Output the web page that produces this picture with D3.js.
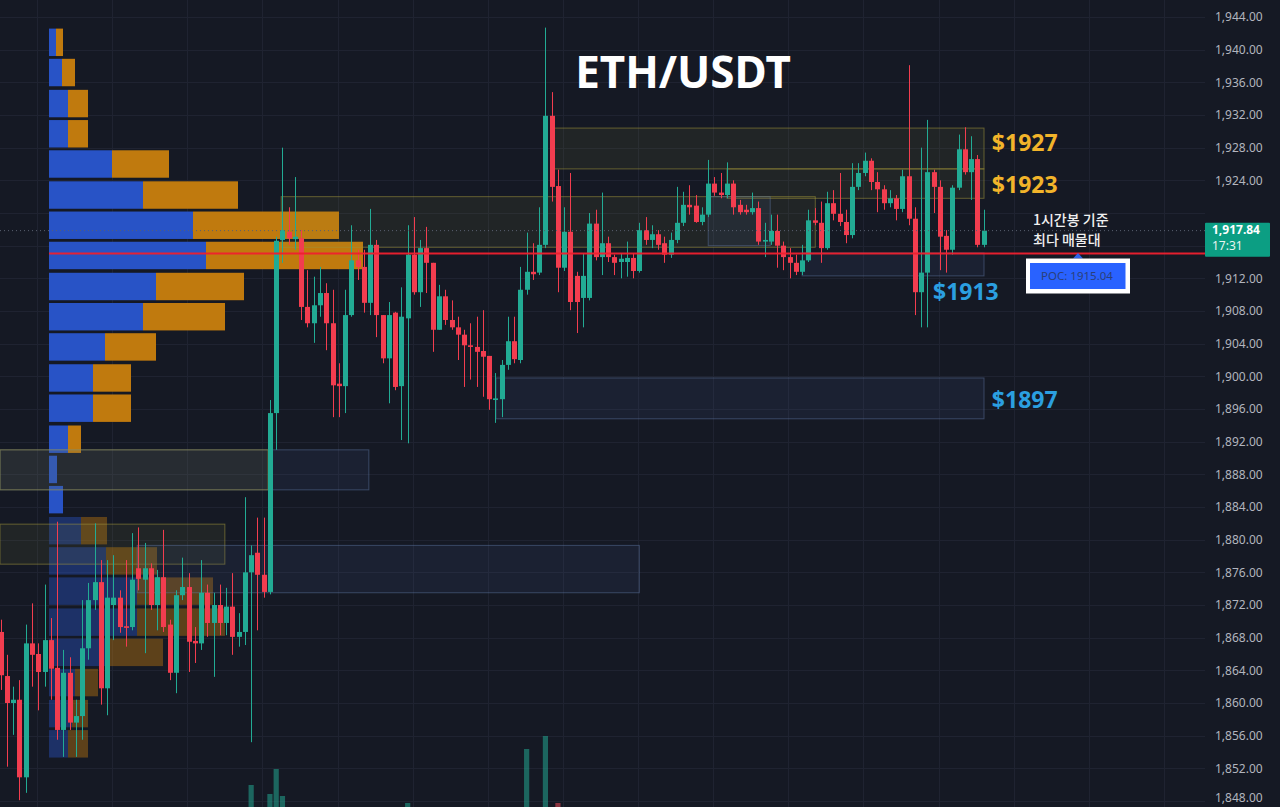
<!DOCTYPE html>
<html><head><meta charset="utf-8">
<script src="https://cdn.jsdelivr.net/npm/d3@7"></script>
<style>html,body{margin:0;padding:0;background:#151924;overflow:hidden}svg{display:block}</style>
</head><body><svg id="c" width="1280" height="807"></svg>
<script>
// ---------------- DATA ----------------
const opens = [
1868.7,1863.3,1860.0,1860.4,1850.9,1867.3,1866.0,1863.8,1867.7,1864.3,
1856.7,1863.7,1857.6,1858.4,1866.7,1872.6,1874.8,1861.8,1872.0,1872.9,
1869.4,1869.3,1876.5,1875.1,1876.5,1872.0,1875.4,1869.6,1863.7,1873.2,
1874.2,1867.6,1867.3,1873.5,1869.8,1872.0,1869.8,1871.8,1868.1,1868.7,
1876.0,1878.4,1875.7,1873.6,1895.5,1916.7,1917.7,1916.8,1916.9,1908.5,
1906.5,1908.7,1910.2,1906.5,1899.1,1898.8,1907.5,1914.2,1913.4,1909.0,
1916.1,1907.5,1902.2,1907.8,1898.8,1907.1,1914.9,1910.3,1915.7,1913.9,
1905.7,1909.8,1906.9,1906.0,1905.1,1903.8,1903.6,1903.1,1902.5,1897.1,
1897.2,1901.4,1904.3,1902.0,1910.6,1912.8,1912.7,1916.1,1931.9,1923.3,
1913.3,1917.7,1912.3,1909.6,1909.6,1918.7,1914.6,1916.3,1914.6,1914.0,
1914.0,1914.5,1912.9,1917.9,1916.7,1917.4,1916.3,1914.9,1916.7,1918.8,
1921.0,1920.9,1918.9,1919.8,1923.6,1922.5,1922.2,1923.6,1921.0,1920.4,
1920.1,1920.6,1916.5,1916.5,1917.8,1916.0,1914.6,1913.9,1912.8,1914.2,
1919.1,1918.8,1915.7,1921.2,1919.9,1918.9,1917.3,1923.2,1924.9,1926.4,
1923.8,1922.9,1921.2,1921.8,1920.5,1924.5,1919.3,1910.3,1912.7,1925.0,
1923.2,1917.2,1915.5,1923.1,1927.8,1925.0,1926.6,1916.1];
const highs = [
1870.2,1865.9,1862.0,1862.8,1869.6,1872.2,1867.3,1874.5,1870.4,1882.2,
1866.5,1865.6,1860.4,1872.6,1874.7,1882.0,1877.5,1877.5,1878.1,1873.8,
1877.5,1880.8,1881.5,1879.6,1877.1,1876.3,1881.2,1870.2,1873.8,1877.8,
1875.9,1869.3,1877.5,1874.5,1873.5,1874.5,1874.1,1875.9,1871.0,1885.2,
1879.3,1882.7,1882.7,1897.1,1917.1,1928.0,1920.7,1924.4,1917.9,1913.0,
1912.2,1913.4,1911.4,1910.6,1901.6,1910.6,1918.5,1915.5,1915.5,1920.5,
1916.7,1907.5,1909.1,1907.9,1910.9,1918.5,1919.5,1916.7,1918.3,1913.9,
1911.2,1910.6,1909.3,1907.3,1905.7,1906.5,1907.3,1908.1,1902.5,1900.4,
1902.0,1907.3,1907.3,1913.4,1917.6,1916.3,1920.7,1942.7,1934.8,1925.3,
1920.7,1924.9,1912.8,1915.1,1920.0,1920.4,1922.5,1917.1,1914.9,1915.1,
1916.5,1915.1,1918.8,1919.5,1918.5,1917.9,1917.1,1917.6,1923.2,1922.6,
1923.4,1922.2,1920.7,1926.5,1924.4,1924.9,1926.2,1924.0,1921.6,1921.0,
1922.5,1921.4,1918.8,1919.8,1919.8,1916.5,1915.7,1914.9,1916.1,1920.4,
1920.6,1921.4,1922.6,1922.8,1924.9,1920.4,1926.1,1926.1,1927.4,1926.7,
1925.0,1923.4,1922.8,1922.2,1925.3,1938.1,1920.7,1928.0,1931.4,1925.3,
1924.0,1917.9,1923.4,1929.6,1930.5,1929.4,1927.1,1920.4];
const lows = [
1861.6,1852.2,1856.1,1848.1,1849.0,1862.0,1859.1,1862.0,1860.4,1855.5,
1853.4,1856.7,1853.4,1855.5,1865.3,1871.4,1859.8,1858.5,1867.7,1868.6,
1866.9,1868.9,1873.8,1866.1,1871.4,1868.9,1868.7,1862.8,1861.2,1872.6,
1863.8,1864.9,1866.5,1868.1,1863.2,1868.3,1868.3,1865.9,1866.9,1867.1,
1855.2,1868.9,1872.9,1873.3,1891.0,1913.9,1916.1,1915.5,1906.9,1906.0,
1904.1,1907.3,1903.2,1895.0,1895.0,1895.5,1907.3,1911.8,1907.8,1907.5,
1904.8,1901.6,1896.7,1898.3,1892.2,1891.8,1910.0,1908.5,1910.2,1903.0,
1905.7,1906.3,1905.7,1902.0,1898.7,1899.6,1898.7,1897.5,1895.9,1894.3,
1895.0,1900.8,1901.6,1901.6,1910.0,1911.8,1912.4,1915.7,1921.4,1910.3,
1912.9,1908.1,1905.3,1906.0,1909.3,1914.2,1912.4,1914.0,1912.4,1912.0,
1912.2,1912.0,1912.7,1916.1,1915.7,1915.5,1913.9,1914.5,1916.3,1918.4,
1919.8,1918.8,1918.5,1919.5,1922.1,1921.8,1921.8,1919.8,1919.8,1919.8,
1919.8,1916.1,1914.6,1916.1,1913.3,1913.0,1912.0,1912.4,1912.4,1914.0,
1918.5,1913.9,1915.5,1919.1,1918.4,1916.3,1916.9,1922.8,1924.5,1922.8,
1920.1,1920.4,1920.7,1919.1,1920.1,1918.5,1907.5,1906.0,1906.0,1920.0,
1913.0,1912.7,1914.9,1922.8,1924.7,1921.6,1915.8,1915.8];
const closes = [
1863.4,1860.0,1860.4,1850.9,1867.3,1865.9,1863.8,1867.7,1864.2,1856.7,
1863.7,1857.6,1858.4,1866.7,1872.6,1874.8,1861.8,1872.9,1872.9,1869.3,
1869.2,1875.1,1875.2,1876.5,1872.0,1875.4,1869.3,1863.7,1873.2,1874.2,
1867.5,1867.3,1873.5,1869.8,1872.0,1869.8,1871.8,1868.1,1868.7,1876.0,
1878.1,1875.7,1873.6,1895.5,1916.6,1917.9,1916.9,1917.1,1908.5,1906.5,
1908.7,1910.2,1906.5,1898.9,1898.8,1907.5,1914.2,1913.4,1909.0,1916.1,
1907.5,1902.2,1907.5,1898.7,1907.3,1914.9,1910.3,1915.7,1913.9,1905.7,
1909.8,1906.9,1906.0,1905.1,1903.8,1903.6,1903.0,1902.4,1897.2,1897.3,
1901.4,1904.3,1902.1,1910.6,1912.8,1912.5,1916.1,1931.9,1923.2,1913.3,
1917.7,1909.1,1909.1,1912.3,1918.7,1914.6,1916.3,1914.6,1913.9,1914.4,
1914.5,1912.9,1917.9,1916.7,1917.4,1916.1,1914.9,1916.7,1918.8,1921.0,
1920.7,1918.9,1919.8,1923.6,1922.5,1922.2,1923.6,1920.7,1920.1,1920.1,
1920.6,1916.5,1916.7,1917.8,1916.0,1914.6,1913.9,1912.8,1914.2,1919.1,
1918.8,1915.7,1921.2,1919.9,1918.9,1917.3,1923.2,1924.9,1926.4,1923.8,
1922.9,1921.2,1921.8,1920.5,1924.5,1919.3,1910.3,1912.7,1925.0,1923.2,
1917.1,1915.5,1923.1,1927.8,1925.0,1926.6,1916.1,1917.84];

// volume (only bars tall enough to show in the visible part of the pane)
const volIndex = [40, 43, 44, 45, 65, 84, 87, 89];
const volValue = [65, 56, 81, 54, 47, 101, 114, 47];

// visible-range volume profile
const vpPrice = [1940.9,1937.2,1933.4,1929.7,1926.0,1922.2,1918.5,1914.8,1911.0,1907.3,1903.6,1899.8,
                 1896.1,1892.3,1888.6,1884.9,1881.1,1877.4,1873.7,1869.9,1866.2,1862.5,1858.7,1855.0];
const vpBuy  = [7,13,19,19,63,94,144,157,107,94,56,44,44,19,8,14,32,57,88,88,59,26,23,19];
const vpSell = [7,13,20,20,57,95,146,157,88,82,51,38,38,13,0,0,26,51,76,88,55,23,16,20];
const vpFaded = [0,0,0,0,0,0,0,0,0,0,0,0,0,0,0,0,1,1,1,1,1,1,1,1];

// zones: from/to candle index, top/bottom price, kind
const zoneFrom = [-1, 44.8, 88.2, 116, 128, 79.1, -1, -1, 21.8, 113];
const zoneTo   = [58.8, 130.1, 157.05, 157.05, 157.05, 157.05, 42.7, 35.8, 102, 122.9];
const zoneTop  = [1891.0, 1922.0, 1930.4, 1925.4, 1915.1, 1899.8, 1891.0, 1881.9, 1879.3, 1922.0];
const zoneBot  = [1886.1, 1915.8, 1925.4, 1921.8, 1912.3, 1894.8, 1886.1, 1877.0, 1873.5, 1916.0];
const zoneKind = ["blue","olive","olive","olive","blue","blue","olive","olive","blue","blue"];

const priceTicks = d3.range(1848, 1945, 4);
const lastPrice = 1917.84, lastTime = "17:31";
const pocPrice = 1915.04;
const levelLabels = ["$1927", "$1923", "$1913", "$1897"];
const levelPrices = [1928.6, 1923.4, 1910.3, 1897.1];
const levelIndex  = [158.3, 158.3, 148.9, 158.3];
const levelColors = ["#f2b42a", "#f2b42a", "#2b9fe0", "#2b9fe0"];
const title = "ETH/USDT";
const noteLines = ["1시간봉 기준", "최다 매물대"];

// ---------------- DRAW ----------------
const W = 1280, H = 807, plotRight = 1205;
const svg = d3.select("#c");
svg.append("rect").attr("width", W).attr("height", H).attr("fill", "#151924");

const y = d3.scaleLinear().domain([1848, 1944]).range([801, 17]);
const x = d3.scaleLinear().domain([0, 157]).range([0.7, 983.7]);
const vpX = d3.scaleLinear().domain([0, 100]).range([49, 149]);
const volY = d3.scaleLinear().domain([0, 120]).range([850, 730]);

// grid
const grid = svg.append("g");
grid.selectAll("line.h").data(priceTicks).join("line")
  .attr("x1", 0).attr("x2", plotRight)
  .attr("y1", d => Math.round(y(d)) + 0.5).attr("y2", d => Math.round(y(d)) + 0.5)
  .attr("stroke", "#1f2331").attr("stroke-width", 1);
const timeGrid = d3.range(5.8, 192, 12);
grid.selectAll("line.v").data(timeGrid).join("line")
  .attr("y1", 0).attr("y2", H)
  .attr("x1", d => Math.round(x(d)) + 0.5).attr("x2", d => Math.round(x(d)) + 0.5)
  .attr("stroke", "#1f2331").attr("stroke-width", 1);

// volume profile
const vp = svg.append("g");
const halfBin = 1.68;
vpPrice.forEach((p, k) => {
  const y0 = y(p + halfBin), y1 = y(p - halfBin);
  const op = vpFaded[k] ? 0.42 : 1;
  vp.append("rect").attr("x", vpX(0)).attr("y", y0)
    .attr("width", vpX(vpBuy[k]) - vpX(0)).attr("height", y1 - y0)
    .attr("fill", "#2853c6").attr("opacity", op);
  if (vpSell[k] > 0)
    vp.append("rect").attr("x", vpX(vpBuy[k])).attr("y", y0)
      .attr("width", vpX(vpBuy[k] + vpSell[k]) - vpX(vpBuy[k])).attr("height", y1 - y0)
      .attr("fill", "#c07a0e").attr("opacity", op);
});

// zones
const zg = svg.append("g");
zoneKind.forEach((k, i) => {
  const x0 = Math.max(0, x(zoneFrom[i])), x1 = x(zoneTo[i]);
  const y0 = y(zoneTop[i]), y1 = y(zoneBot[i]);
  const fill = k === "olive" ? "rgba(150,150,60,0.10)" : "rgba(70,95,150,0.13)";
  const stroke = k === "olive" ? "rgba(160,150,60,0.55)" : "rgba(100,125,170,0.45)";
  zg.append("rect").attr("x", x0).attr("y", y0).attr("width", x1 - x0).attr("height", y1 - y0)
    .attr("fill", fill).attr("stroke", stroke).attr("stroke-width", 1);
});

// volume bars
const vg = svg.append("g");
volIndex.forEach((ci, k) => {
  const up = closes[ci] >= opens[ci];
  vg.append("rect").attr("x", x(ci) - 2.6).attr("width", 5.2)
    .attr("y", volY(volValue[k])).attr("height", volY(0) - volY(volValue[k]))
    .attr("fill", up ? "#22a68f" : "#ef4a58").attr("opacity", 0.55);
});

// candles
const UP = "#22ab94", DN = "#f23d4f";
const cg = svg.append("g");
const idx = d3.range(opens.length);
cg.selectAll("line.w").data(idx).join("line")
  .attr("x1", i => Math.round(x(i)) + 0.5).attr("x2", i => Math.round(x(i)) + 0.5)
  .attr("y1", i => y(highs[i])).attr("y2", i => y(lows[i]))
  .attr("stroke", i => closes[i] >= opens[i] ? UP : DN).attr("stroke-width", 1);
cg.selectAll("rect.b").data(idx).join("rect")
  .attr("x", i => Math.round(x(i)) + 0.5 - 2.5).attr("width", 5)
  .attr("y", i => y(Math.max(opens[i], closes[i])))
  .attr("height", i => Math.max(1.5, Math.abs(y(opens[i]) - y(closes[i]))))
  .attr("fill", i => closes[i] >= opens[i] ? UP : DN);

// last price dotted line
svg.append("line").attr("x1", 0).attr("x2", plotRight)
  .attr("y1", y(lastPrice)).attr("y2", y(lastPrice))
  .attr("stroke", "#5a6070").attr("stroke-width", 1).attr("stroke-dasharray", "1,3");

// POC line
svg.append("line").attr("x1", vpX(0)).attr("x2", plotRight)
  .attr("y1", y(pocPrice)).attr("y2", y(pocPrice))
  .attr("stroke", "#f0202f").attr("stroke-width", 2).attr("opacity", 0.95);

// price axis
const ax = svg.append("g");
ax.selectAll("text").data(priceTicks.filter(d => Math.abs(y(d) - y(lastPrice)) > 18)).join("text")
  .attr("x", 1215).attr("y", d => Math.min(y(d), 798)).attr("dy", "0.35em")
  .attr("fill", "#b2b5be").attr("font-family", "Noto Sans, sans-serif").attr("font-size", 12)
  .text(d => d3.format(",.2f")(d));

// last price tag
const tagY = y(lastPrice);
svg.append("rect").attr("x", 1205).attr("y", tagY - 8).attr("width", 65).attr("height", 34)
  .attr("fill", "#0c9e83").attr("rx", 1);
svg.append("text").attr("x", 1212).attr("y", tagY + 3.5).attr("fill", "#ffffff")
  .attr("font-family", "Noto Sans, sans-serif").attr("font-size", 12).attr("font-weight", 700)
  .text(d3.format(",.2f")(lastPrice));
svg.append("text").attr("x", 1212).attr("y", tagY + 19).attr("fill", "#e8f5f1")
  .attr("font-family", "Noto Sans, sans-serif").attr("font-size", 12)
  .text(lastTime);

// title
svg.append("text").attr("x", 683).attr("y", 88).attr("text-anchor", "middle")
  .attr("fill", "#ffffff").attr("font-family", "Noto Sans, sans-serif")
  .attr("font-size", 44).attr("font-weight", 700).text(title);

// level labels
levelLabels.forEach((t, i) => {
  svg.append("text").attr("x", x(levelIndex[i])).attr("y", y(levelPrices[i])).attr("dy", "0.35em")
    .attr("fill", levelColors[i]).attr("font-family", "Noto Sans, sans-serif")
    .attr("font-size", 23).attr("font-weight", 700).text(t);
});

// note text
noteLines.forEach((t, i) => {
  svg.append("text").attr("x", 1033).attr("y", 225 + i * 20)
    .attr("fill", "#f0f0f0").attr("font-family", "Noto Sans CJK KR, sans-serif")
    .attr("font-size", 14).attr("font-weight", 500).text(t);
});

// POC label
const pocY = y(pocPrice);
svg.append("path").attr("d", `M1078,${pocY - 0.5} L1073,${pocY + 5} L1083,${pocY + 5} Z`).attr("fill", "#2f64ea");
svg.append("rect").attr("x", 1026).attr("y", pocY + 5).attr("width", 104).attr("height", 35).attr("fill", "#ffffff");
svg.append("rect").attr("x", 1030).attr("y", pocY + 9.5).attr("width", 95.5).attr("height", 26).attr("fill", "#2962ff");
svg.append("text").attr("x", 1077).attr("y", pocY + 22.5).attr("dy", "0.35em").attr("text-anchor", "middle")
  .attr("fill", "#2a3f7a").attr("font-family", "Noto Sans, sans-serif").attr("font-size", 11.5)
  .text("POC: " + pocPrice.toFixed(2));
</script></body></html>
